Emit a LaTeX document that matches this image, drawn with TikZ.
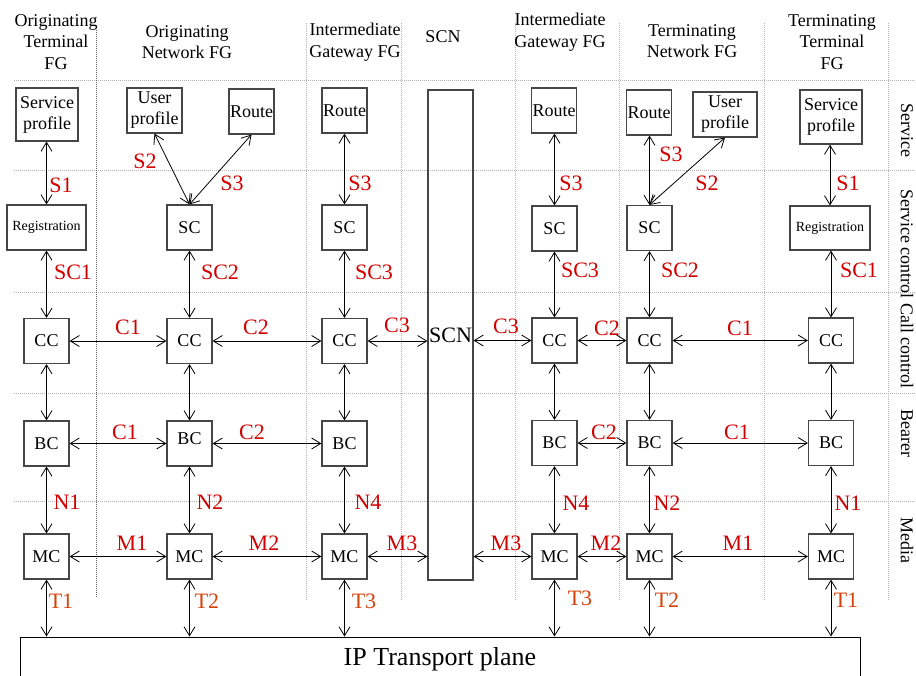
\documentclass[tikz,border=0pt]{standalone}
\usepackage{fontspec}
\setmainfont{Liberation Serif}
\usetikzlibrary{arrows.meta}
\definecolor{lblred}{RGB}{210,0,0}
\definecolor{lblorange}{RGB}{215,65,10}
\definecolor{boxgray}{RGB}{70,70,70}
\tikzset{
  fbox/.style={draw=boxgray, line width=1.2pt, inner sep=0pt, align=center,
    minimum width=45pt, minimum height=45pt, font=\fontsize{18}{21}\selectfont},
  biarrow/.style={line width=0.8pt, {Straight Barb[length=9pt,width=11pt]}-{Straight Barb[length=9pt,width=11pt]}},
  rlab/.style={text=lblred, inner sep=0pt, font=\fontsize{22}{24}\selectfont},
  tlab/.style={text=lblorange, inner sep=0pt, font=\fontsize{22}{24}\selectfont},
  head/.style={inner sep=0pt, align=center, font=\fontsize{18}{21.5}\selectfont},
  side/.style={inner sep=0pt, rotate=-90, font=\fontsize{18}{21}\selectfont},
  grid/.style={draw=black!30, line width=0.6pt, dash pattern=on 1pt off 1pt},
  darkgrid/.style={draw=black!65, line width=0.6pt, dash pattern=on 1pt off 1pt}
}
\begin{document}
\begin{tikzpicture}[x=1pt,y=-1pt]
\useasboundingbox (0,0) rectangle (916,675);
% grid lines
\foreach \yy in {80,170,292,393,501} \draw[grid] (14,\yy) -- (916,\yy);
\foreach \xx in {306,401,515,619,764,888} \draw[grid] (\xx,23) -- (\xx,600);
\draw[darkgrid] (96,30) -- (96,598);
% headers
\node[head] (h1) at (56,42) {Originating\\Terminal\\FG};
\node[head] (h2) at (187,42) {Originating\\Network FG};
\node[head] (h3) at (355,42) {Intermediate\\Gateway FG};
\node[head] (h4) at (443,37) {SCN};
\node[head] (h5) at (560,32) {Intermediate\\Gateway FG};
\node[head] (h6) at (692,41) {Terminating\\Network FG};
\node[head] (h7) at (832,42) {Terminating\\Terminal\\FG};
% side labels
\node[side] (s1) at (907,130) {Service};
\node[side] (s2) at (907,289) {Service control Call control};
\node[side] (s4) at (907,433) {Bearer};
\node[side] (s5) at (907,540) {Media};
% column 1
\node[fbox, minimum width=62pt, minimum height=53pt] (sp1) at (47,114.5) {Service\\profile};
\node[fbox, minimum width=79pt, font=\fontsize{14}{16}\selectfont] (reg1) at (46.5,227.5) {Registration};
\node[fbox] (cc1) at (46.5,341) {CC};
\node[fbox] (bc1) at (46.5,443.5) {BC};
\node[fbox] (mc1) at (46.5,556.5) {MC};
% column 2
\node[fbox, minimum width=55pt] (up2) at (154.5,110.5) {User\\profile};
\node[fbox] (rt2) at (251.5,111.5) {Route};
\node[fbox] (sc2) at (189.5,227.5) {SC};
\node[fbox] (cc2) at (189.5,341) {CC};
\node[fbox] (bc2) at (189.5,443.5) {\raisebox{10pt}{BC}};
\node[fbox] (mc2) at (189.5,556.5) {MC};
% column 3
\node[fbox] (rt3) at (344.5,110.5) {Route};
\node[fbox] (sc3) at (344.5,227.5) {SC};
\node[fbox] (cc3) at (344.5,341) {CC};
\node[fbox] (bc3) at (344.5,443.5) {BC};
\node[fbox] (mc3) at (344.5,556.5) {MC};
% SCN
\node[fbox, minimum width=45pt, minimum height=490pt, font=\fontsize{22}{24}\selectfont] (scn) at (450.5,335) {\raisebox{-5pt}{SCN}};
% column 4
\node[fbox] (rt4) at (554,110.5) {Route};
\node[fbox] (sc4) at (554.5,228.5) {SC};
\node[fbox] (cc4) at (554.5,340.5) {CC};
\node[fbox] (bc4) at (554.5,443) {BC};
\node[fbox] (mc4) at (554.5,556.5) {MC};
% column 5
\node[fbox] (rt5) at (649,112.5) {Route};
\node[fbox, minimum width=64pt] (up5) at (725,114.5) {User\\profile};
\node[fbox] (sc5) at (649.5,228) {SC};
\node[fbox] (cc5) at (649.5,340.5) {CC};
\node[fbox] (bc5) at (649.5,443) {BC};
\node[fbox] (mc5) at (649.5,556.5) {MC};
% column 6
\node[fbox, minimum width=62pt, minimum height=54pt] (sp6) at (831,117) {Service\\profile};
\node[fbox, minimum width=80pt, minimum height=44pt, font=\fontsize{14}{16}\selectfont] (reg6) at (830,228) {Registration};
\node[fbox] (cc6) at (831,340.5) {CC};
\node[fbox] (bc6) at (831,443) {BC};
\node[fbox] (mc6) at (831,556.5) {MC};
% IP plane
\node[draw=black, line width=1pt, minimum width=840pt, minimum height=60pt, inner sep=0pt] (ip) at (440,667) {};
\node[inner sep=0pt, font=\fontsize{26}{28}\selectfont] (iptext) at (440,659) {IP Transport plane};
% vertical connectors
\draw[biarrow] (reg1.north) -- (reg1.north |- sp1.south);
\draw[biarrow] (reg1.south) -- (cc1.north);
\draw[biarrow] (cc1.south) -- (bc1.north);
\draw[biarrow] (bc1.south) -- (mc1.north);
\draw[biarrow] (sc2.north) -- (up2.south);
\draw[biarrow] (sc2.north) -- (rt2.south);
\draw[biarrow] (sc2.south) -- (cc2.north);
\draw[biarrow] (cc2.south) -- (bc2.north);
\draw[biarrow] (bc2.south) -- (mc2.north);
\draw[biarrow] (sc3.north) -- (rt3.south);
\draw[biarrow] (sc3.south) -- (cc3.north);
\draw[biarrow] (cc3.south) -- (bc3.north);
\draw[biarrow] (bc3.south) -- (mc3.north);
\draw[biarrow] (sc4.north) -- (sc4.north |- rt4.south);
\draw[biarrow] (sc4.south) -- (cc4.north);
\draw[biarrow] (cc4.south) -- (bc4.north);
\draw[biarrow] (bc4.south) -- (mc4.north);
\draw[biarrow] (sc5.north) -- (sc5.north |- rt5.south);
\draw[biarrow] (sc5.north) -- (up5.south);
\draw[biarrow] (sc5.south) -- (cc5.north);
\draw[biarrow] (cc5.south) -- (bc5.north);
\draw[biarrow] (bc5.south) -- (mc5.north);
\draw[biarrow] (reg6.north) -- (reg6.north |- sp6.south);
\draw[biarrow] (cc6.north |- reg6.south) -- (cc6.north);
\draw[biarrow] (cc6.south) -- (bc6.north);
\draw[biarrow] (bc6.south) -- (mc6.north);
% horizontal connectors
\draw[biarrow] (cc1.east) -- (cc2.west);
\draw[biarrow] (cc2.east) -- (cc3.west);
\draw[biarrow] (cc3.east) -- (scn.west |- cc3.east);
\draw[biarrow] (scn.east |- cc4.west) -- (cc4.west);
\draw[biarrow] (cc4.east) -- (cc5.west);
\draw[biarrow] (cc5.east) -- (cc6.west);
\draw[biarrow] (bc1.east) -- (bc2.west);
\draw[biarrow] (bc2.east) -- (bc3.west);
\draw[biarrow] (bc4.east) -- (bc5.west);
\draw[biarrow] (bc5.east) -- (bc6.west);
\draw[biarrow] (mc1.east) -- (mc2.west);
\draw[biarrow] (mc2.east) -- (mc3.west);
\draw[biarrow] (mc3.east) -- (scn.west |- mc3.east);
\draw[biarrow] (scn.east |- mc4.west) -- (mc4.west);
\draw[biarrow] (mc4.east) -- (mc5.west);
\draw[biarrow] (mc5.east) -- (mc6.west);
% transport connectors
\draw[biarrow] (mc1.south) -- (mc1.south |- ip.north);
\draw[biarrow] (mc2.south) -- (mc2.south |- ip.north);
\draw[biarrow] (mc3.south) -- (mc3.south |- ip.north);
\draw[biarrow] (mc4.south) -- (mc4.south |- ip.north);
\draw[biarrow] (mc5.south) -- (mc5.south |- ip.north);
\draw[biarrow] (mc6.south) -- (mc6.south |- ip.north);
% labels
\node[rlab] (lS1a) at (61,185) {S1};
\node[rlab] (lSC1a) at (73,272) {SC1};
\node[rlab] (lC1a) at (128,327) {C1};
\node[rlab] (lC2a) at (256,327) {C2};
\node[rlab] (lC3a) at (397,325) {C3};
\node[rlab] (lS2a) at (145,161) {S2};
\node[rlab] (lS3a) at (232,183) {S3};
\node[rlab] (lSC2a) at (220,272) {SC2};
\node[rlab] (lS3b) at (360,183) {S3};
\node[rlab] (lSC3a) at (374,272) {SC3};
\node[rlab] (lC1b) at (125,432) {C1};
\node[rlab] (lC2b) at (252,432) {C2};
\node[rlab] (lN1a) at (67,502) {N1};
\node[rlab] (lN2a) at (210,502) {N2};
\node[rlab] (lN4a) at (368,502) {N4};
\node[rlab] (lM1a) at (132,543) {M1};
\node[rlab] (lM2a) at (264,543) {M2};
\node[rlab] (lM3a) at (402,543) {M3};
\node[tlab] (lT1a) at (61,601) {T1};
\node[tlab] (lT2a) at (207,601) {T2};
\node[tlab] (lT3a) at (364,601) {T3};
\node[rlab] (lS3c) at (571,183) {S3};
\node[rlab] (lS2b) at (707,183) {S2};
\node[rlab] (lS1b) at (848,183) {S1};
\node[rlab] (lS3d) at (671,154) {S3};
\node[rlab] (lSC3b) at (580,270) {SC3};
\node[rlab] (lSC2b) at (680,270) {SC2};
\node[rlab] (lSC1b) at (859,270) {SC1};
\node[rlab] (lC3b) at (506,326) {C3};
\node[rlab] (lC2c) at (607,328) {C2};
\node[rlab] (lC1c) at (740,328) {C1};
\node[rlab] (lC2d) at (604,432) {C2};
\node[rlab] (lC1d) at (737,432) {C1};
\node[rlab] (lN4b) at (576,503) {N4};
\node[rlab] (lN2b) at (667,503) {N2};
\node[rlab] (lN1b) at (848,503) {N1};
\node[rlab] (lM3b) at (506,543) {M3};
\node[rlab] (lM2b) at (606,543) {M2};
\node[rlab] (lM1b) at (738,543) {M1};
\node[tlab] (lT3b) at (580,598) {T3};
\node[tlab] (lT2b) at (667,600) {T2};
\node[tlab] (lT1b) at (846,600) {T1};
\end{tikzpicture}
\end{document}
